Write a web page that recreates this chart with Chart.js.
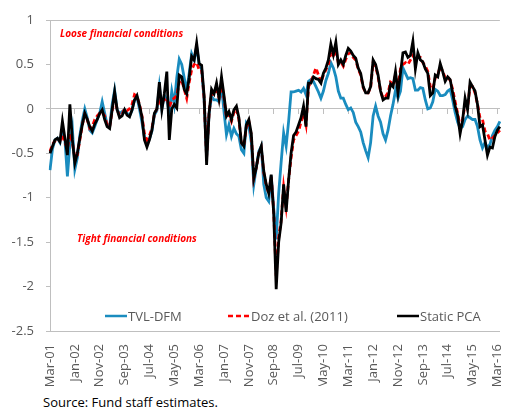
<!DOCTYPE html>
<html>
<head>
<meta charset="utf-8">
<script src="https://cdn.jsdelivr.net/npm/chart.js@4.4.1/dist/chart.umd.min.js"></script>
<style>
  html, body { margin: 0; padding: 0; background: #fff; overflow: hidden; }
  body { width: 518px; height: 410px; position: relative; font-family: 'Open Sans', sans-serif; }
  #wrap { position: absolute; left: 0; top: 0; width: 518px; height: 386px; }
  .note { position: absolute; color: #ff0000; font-weight: bold; font-style: italic; font-size: 10px; white-space: nowrap; }
  .leg { position: absolute; top: 307px; font-size: 13px; color: #595959; white-space: nowrap; display: flex; align-items: center; }
  .leg svg { margin-right: 1px; }
  #source { position: absolute; left: 43px; top: 393px; font-size: 13px; color: #000; white-space: nowrap; }
</style>
</head>
<body>
<div id="wrap"><canvas id="chart"></canvas></div>
<div class="note" style="left:60px; top:26px;">Loose financial conditions</div>
<div class="note" style="left:77px; top:231px;">Tight financial conditions</div>
<div id="legend"></div>
<div id="source">Source: Fund staff estimates.</div>
<script>
// monthly, Mar-01 onwards
const MONTHS = ['Jan','Feb','Mar','Apr','May','Jun','Jul','Aug','Sep','Oct','Nov','Dec'];
const START_YEAR = 2001, START_MONTH = 2, N_POINTS = 182;
const labels = [];
for (let i = 0; i < N_POINTS; i++) {
  const m = (START_MONTH + i) % 12;
  const y = START_YEAR + Math.floor((START_MONTH + i) / 12);
  labels.push(MONTHS[m] + '-' + String(y % 100).padStart(2, '0'));
}

const yTicks = [1, 0.5, 0, -0.5, -1, -1.5, -2, -2.5];

const tvlDfm = [
  -0.69,-0.45,-0.35,-0.33,-0.38,-0.25,-0.35,-0.76,-0.40,-0.22,
  -0.68,-0.55,-0.30,-0.13, 0.00,-0.10,-0.24,-0.27,-0.20,-0.12,
  -0.05, 0.08,-0.05,-0.18,-0.20, 0.05, 0.21,-0.01,-0.05,-0.03,
  -0.01,-0.05,-0.08,-0.02, 0.10, 0.13, 0.00,-0.15,-0.32,-0.38,
  -0.34,-0.25,-0.07,-0.02, 0.25, 0.00, 0.15, 0.10,-0.05, 0.20,
   0.05, 0.35, 0.56, 0.50, 0.35, 0.20, 0.40, 0.62, 0.55, 0.70,
   0.50, 0.45, 0.10,-0.55,-0.05, 0.14, 0.10, 0.10, 0.08, 0.25,
  -0.03,-0.29,-0.18,-0.31,-0.22,-0.28,-0.31,-0.46,-0.50,-0.16,
  -0.20,-0.38,-0.85,-0.66,-0.48,-0.42,-0.85,-1.00,-1.04,-0.75,
  -1.12,-1.47,-0.95,-0.60,-0.27,-0.42,-0.14, 0.19, 0.19, 0.20,
   0.21, 0.19, 0.23, 0.16, 0.31, 0.33, 0.31, 0.25, 0.19, 0.12,
   0.20, 0.32, 0.40, 0.52, 0.46, 0.36, 0.20, 0.12, 0.12, 0.05,
  -0.01, 0.01,-0.04,-0.15,-0.20,-0.26,-0.38,-0.47,-0.55,-0.38,
  -0.08, 0.03,-0.08,-0.15,-0.28,-0.35,-0.24,-0.08, 0.05, 0.21,
   0.12, 0.20, 0.46, 0.40, 0.34, 0.35, 0.34, 0.21, 0.21, 0.24,
   0.23, 0.10, 0.00, 0.01, 0.08, 0.22, 0.20, 0.15, 0.15, 0.16,
   0.20, 0.22, 0.10,-0.04,-0.15,-0.22,-0.20,-0.12,-0.08,-0.10,
  -0.12,-0.12,-0.20,-0.35,-0.44,-0.38,-0.44,-0.40,-0.30,-0.24,
  -0.20,-0.14
];

const doz2011 = [
  -0.48,-0.40,-0.36,-0.34,-0.36,-0.30,-0.38,-0.45,-0.28,-0.38,
  -0.55,-0.52,-0.35,-0.18,-0.06,-0.12,-0.22,-0.20,-0.12,-0.08,
  -0.05,-0.04,-0.08,-0.18,-0.20,-0.03, 0.15,-0.01,-0.08,-0.06,
   0.00,-0.02, 0.00, 0.05, 0.16, 0.14, 0.05,-0.08,-0.28,-0.35,
  -0.30,-0.22,-0.06, 0.00, 0.10, 0.08, 0.10, 0.12, 0.02, 0.10,
   0.12, 0.15, 0.30, 0.32, 0.22, 0.12, 0.30, 0.44, 0.50, 0.52,
   0.44, 0.44, 0.12,-0.55,-0.05, 0.18, 0.15, 0.25, 0.12, 0.30,
   0.12,-0.10,-0.06,-0.14,-0.04, 0.00,-0.12,-0.38,-0.42,-0.20,
  -0.14,-0.30,-0.78,-0.66,-0.50,-0.44,-0.72,-0.86,-0.95,-0.76,
  -1.15,-1.88,-1.45,-1.25,-0.88,-1.10,-0.80,-0.55,-0.35,-0.30,
  -0.25,-0.15,-0.05,-0.18, 0.25, 0.30, 0.38, 0.46, 0.38, 0.30,
   0.38, 0.44, 0.50, 0.64, 0.60, 0.66, 0.52, 0.53, 0.48, 0.56,
   0.62, 0.63, 0.58, 0.55, 0.45, 0.38, 0.24, 0.18, 0.18, 0.24,
   0.52, 0.48, 0.36, 0.20, 0.12, 0.14, 0.18, 0.30, 0.28, 0.38,
   0.24, 0.45, 0.50, 0.52, 0.50, 0.55, 0.60, 0.55, 0.58, 0.58,
   0.52, 0.48, 0.42, 0.25, 0.22, 0.35, 0.38, 0.48, 0.42, 0.35,
   0.36, 0.32, 0.22, 0.08,-0.05,-0.20,-0.12, 0.05, 0.02, 0.25,
   0.25, 0.18, 0.05,-0.10,-0.12,-0.25,-0.28,-0.35,-0.33,-0.30,
  -0.27,-0.24
];

const staticPca = [
  -0.50,-0.42,-0.35,-0.33,-0.37,-0.14,-0.33,-0.52, 0.05,-0.35,
  -0.61,-0.50,-0.33,-0.18,-0.05,-0.12,-0.20,-0.25,-0.17,-0.12,
  -0.05,-0.01,-0.12,-0.20,-0.22,-0.01, 0.19,-0.01,-0.10,-0.08,
  -0.01,-0.07,-0.09,-0.01, 0.10, 0.15, 0.04,-0.09,-0.35,-0.43,
  -0.35,-0.24,-0.05, 0.00, 0.30,-0.01, 0.17, 0.42,-0.35, 0.00,
   0.05, 0.01, 0.38, 0.36, 0.22, 0.17, 0.35, 0.59, 0.55, 0.74,
   0.51, 0.49, 0.15,-0.63,-0.05, 0.22, 0.17, 0.29, 0.12, 0.36,
   0.15,-0.08,-0.03,-0.12,-0.01, 0.03,-0.10,-0.38,-0.42,-0.18,
  -0.12,-0.28,-0.78,-0.66,-0.50,-0.42,-0.70,-0.85,-0.95,-0.74,
  -1.18,-2.03,-1.50,-1.28,-0.85,-1.16,-0.80,-0.50,-0.30,-0.26,
  -0.18,-0.10, 0.03,-0.20, 0.29, 0.29, 0.36, 0.34, 0.33, 0.29,
   0.40, 0.46, 0.55, 0.73, 0.61, 0.75, 0.50, 0.55, 0.50, 0.60,
   0.68, 0.65, 0.60, 0.57, 0.46, 0.40, 0.25, 0.18, 0.18, 0.25,
   0.55, 0.50, 0.38, 0.20, 0.10, 0.12, 0.12, 0.28, 0.25, 0.42,
   0.18, 0.40, 0.63, 0.64, 0.58, 0.60, 0.76, 0.45, 0.63, 0.55,
   0.53, 0.45, 0.40, 0.15, 0.18, 0.38, 0.36, 0.51, 0.42, 0.31,
   0.36, 0.33, 0.18, 0.03,-0.07,-0.28,-0.13, 0.12,-0.01, 0.30,
   0.25, 0.20, 0.05,-0.20,-0.18,-0.35,-0.52,-0.43,-0.44,-0.31,
  -0.24,-0.20
];

const seriesNames = ['TVL-DFM', 'Doz et al. (2011)', 'Static PCA'];
const seriesColors = ['#1A8CBF', '#FF0000', '#000000'];
const seriesDash = [[], [5, 3], []];
const seriesData = [tvlDfm, doz2011, staticPca];
const legendLeft = [105, 228, 397];

const AXIS_GREY = '#BFBFBF';
const TEXT_GREY = '#595959';
const FONT = "'Open Sans', sans-serif";

// legend (inside plot area, bottom)
const legendEl = document.getElementById('legend');
seriesNames.forEach((name, k) => {
  const item = document.createElement('div');
  item.className = 'leg';
  item.style.left = legendLeft[k] + 'px';
  const dash = seriesDash[k].length ? `stroke-dasharray="${seriesDash[k].join(' ')}"` : '';
  item.innerHTML = `<svg width="22" height="6"><line x1="0" y1="3" x2="22" y2="3" stroke="${seriesColors[k]}" stroke-width="2.5" ${dash}/></svg>${name}`;
  legendEl.appendChild(item);
});

new Chart(document.getElementById('chart'), {
  type: 'line',
  data: {
    labels: labels,
    datasets: seriesData.map((d, k) => ({
      label: seriesNames[k],
      data: d,
      borderColor: seriesColors[k],
      borderWidth: 2.8,
      borderDash: seriesDash[k],
      pointRadius: 0,
      tension: 0,
      fill: false,
      order: 3 - k,
    }))
  },
  options: {
    responsive: true,
    maintainAspectRatio: false,
    animation: false,
    layout: { padding: { top: 20, right: 0, left: 0, bottom: 0 } },
    plugins: { legend: { display: false }, tooltip: { enabled: false } },
    scales: {
      x: {
        type: 'category',
        position: 'bottom',
        grid: { display: false },
        border: { display: true, color: AXIS_GREY, width: 1 },
        ticks: {
          autoSkip: false,
          maxRotation: 90,
          minRotation: 90,
          padding: 5,
          color: TEXT_GREY,
          font: { family: FONT, size: 13 },
          callback: (v, i) => (i % 10 === 0 ? labels[i] : null),
        },
        afterFit: (s) => { s.height = 55; },
      },
      xZero: {
        type: 'category',
        axis: 'x',
        position: { y: 0 },
        grid: {
          drawOnChartArea: false,
          drawTicks: true,
          tickLength: 5,
          color: (ctx) => (ctx.index % 10 === 0 ? AXIS_GREY : 'rgba(0,0,0,0)'),
        },
        border: { display: true, color: AXIS_GREY, width: 1 },
        ticks: { display: false, autoSkip: false },
      },
      y: {
        min: -2.5,
        max: 1,
        border: { display: true, color: AXIS_GREY, width: 1 },
        grid: {
          drawTicks: true,
          tickLength: 4,
          tickColor: AXIS_GREY,
          color: (ctx) => (ctx.tick && ctx.tick.value === 1 ? AXIS_GREY : 'rgba(0,0,0,0)'),
        },
        ticks: {
          stepSize: 0.5,
          padding: 12,
          color: TEXT_GREY,
          font: { family: FONT, size: 13 },
          callback: (v) => (yTicks.includes(v) ? String(v) : null),
        },
        afterFit: (s) => { s.width = 50; },
      }
    }
  }
});
</script>
</body>
</html>
